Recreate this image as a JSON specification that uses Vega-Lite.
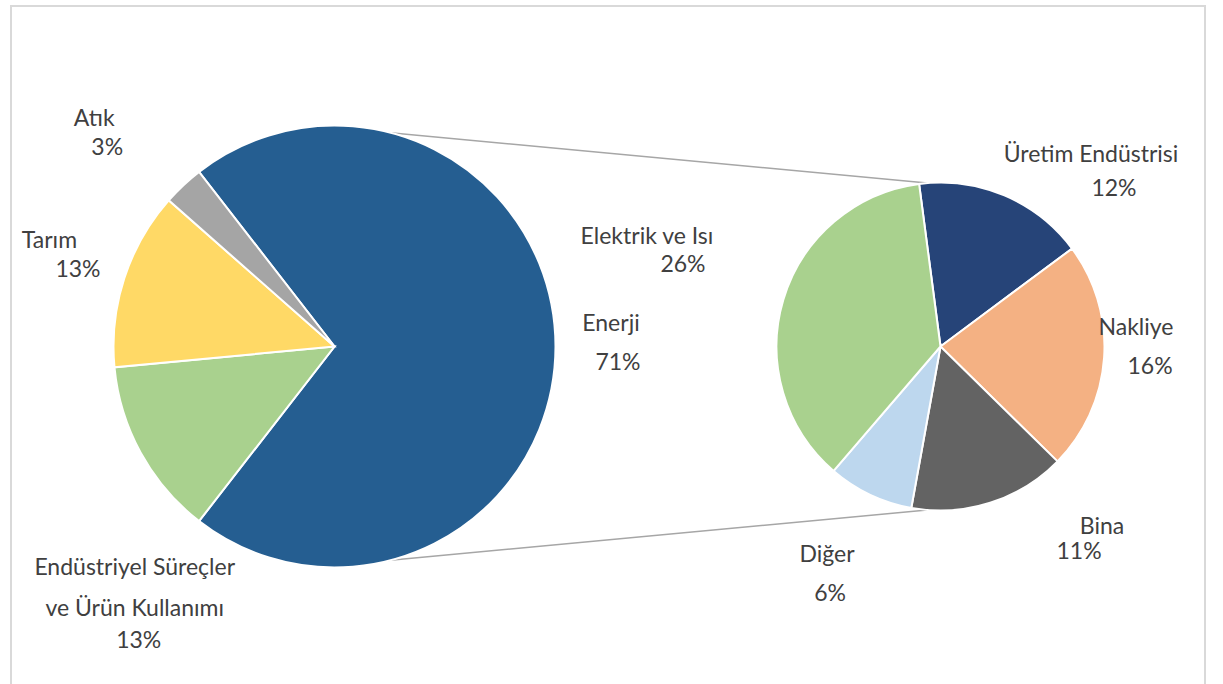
{
  "$schema": "https://vega.github.io/schema/vega-lite/v6.json",
  "width": 1223,
  "height": 684,
  "autosize": {"type": "fit", "contains": "padding"},
  "padding": {"left": 9, "top": 6, "right": 1, "bottom": -3},
  "background": "white",
  "config": {
    "view": {"stroke": "#d9d9d9", "strokeWidth": 2},
    "text": {"font": "Lato", "fontSize": 23, "color": "#404040", "align": "center", "baseline": "middle"}
  },
  "datasets": {
    "ana": [
      {"ad": "Enerji", "pay": 0.71, "sira": 1},
      {"ad": "Endüstriyel Süreçler\nve Ürün Kullanımı", "pay": 0.13, "sira": 2},
      {"ad": "Tarım", "pay": 0.13, "sira": 3},
      {"ad": "Atık", "pay": 0.03, "sira": 4}
    ],
    "enerji": [
      {"ad": "Üretim Endüstrisi", "pay": 0.12, "sira": 1},
      {"ad": "Nakliye", "pay": 0.16, "sira": 2},
      {"ad": "Bina", "pay": 0.11, "sira": 3},
      {"ad": "Diğer", "pay": 0.06, "sira": 4},
      {"ad": "Elektrik ve Isı", "pay": 0.26, "sira": 5}
    ],
    "bos": [{}]
  },
  "layer": [
    {
      "data": {"name": "bos"},
      "mark": {"type": "rule", "color": "#a6a6a6", "strokeWidth": 1.5},
      "encoding": {
        "x": {"datum": "Toplam", "type": "nominal", "scale": {"type": "point", "domain": ["Toplam", "Enerji"], "range": [323.5, 929.5], "padding": 0}, "axis": null},
        "x2": {"datum": "Enerji"},
        "y": {"datum": 1, "type": "quantitative", "scale": {"type": "linear", "domain": [-1.5545, 1.5545], "nice": false, "zero": false}, "axis": null},
        "y2": {"datum": 0.741}
      }
    },
    {
      "data": {"name": "bos"},
      "mark": {"type": "rule", "color": "#a6a6a6", "strokeWidth": 1.5},
      "encoding": {
        "x": {"datum": "Toplam", "type": "nominal", "scale": {"type": "point", "domain": ["Toplam", "Enerji"], "range": [323.5, 929.5], "padding": 0}, "axis": null},
        "x2": {"datum": "Enerji"},
        "y": {"datum": -1, "type": "quantitative", "scale": {"type": "linear", "domain": [-1.5545, 1.5545], "nice": false, "zero": false}, "axis": null},
        "y2": {"datum": -0.741}
      }
    },
    {
      "data": {"name": "ana"},
      "encoding": {
        "theta": {"field": "pay", "type": "quantitative", "stack": true, "scale": {"range": [-0.6597, 5.6235]}},
        "order": {"field": "sira", "type": "quantitative"},
        "detail": {"field": "ad", "type": "nominal"},
        "x": {"datum": "Toplam", "type": "nominal", "scale": {"type": "point", "domain": ["Toplam", "Enerji"], "range": [323.5, 929.5], "padding": 0}, "axis": null},
        "y": {"datum": 0, "type": "quantitative", "scale": {"type": "linear", "domain": [-1.5545, 1.5545], "nice": false, "zero": false}, "axis": null}
      },
      "layer": [
        {
          "mark": {"type": "arc", "radius": 221, "stroke": "white", "strokeWidth": 2},
          "encoding": {
            "color": {"field": "ad", "type": "nominal", "legend": null,
              "scale": {"domain": ["Enerji", "Endüstriyel Süreçler\nve Ürün Kullanımı", "Tarım", "Atık", "Üretim Endüstrisi", "Nakliye", "Bina", "Diğer", "Elektrik ve Isı"],
                        "range": ["#255E91", "#A9D18E", "#FFD966", "#A5A5A5", "#264478", "#F4B183", "#636363", "#BDD7EE", "#A9D18E"]}}
          }
        },
        {"mark": {"type": "text", "radius": 280, "dx": -3.5, "dy": -23},
         "encoding": {"text": {"condition": {"test": "datum.ad === 'Enerji'", "field": "ad", "type": "nominal"}, "value": ""}}},
        {"mark": {"type": "text", "radius": 280, "dx": 3.5, "dy": 16},
         "encoding": {"text": {"condition": {"test": "datum.ad === 'Enerji'", "field": "pay", "type": "quantitative", "format": ".0%"}, "value": ""}}},
        {"mark": {"type": "text", "radius": 220, "dx": -7, "dy": 116, "lineBreak": "\n", "lineHeight": 41},
         "encoding": {"text": {"condition": {"test": "indexof(datum.ad, 'Endüstriyel') === 0", "field": "ad", "type": "nominal"}, "value": ""}}},
        {"mark": {"type": "text", "radius": 220, "dx": -3, "dy": 189},
         "encoding": {"text": {"condition": {"test": "indexof(datum.ad, 'Endüstriyel') === 0", "field": "pay", "type": "quantitative", "format": ".0%"}, "value": ""}}},
        {"mark": {"type": "text", "radius": 285, "dx": -14, "dy": -17},
         "encoding": {"text": {"condition": {"test": "datum.ad === 'Tarım'", "field": "ad", "type": "nominal"}, "value": ""}}},
        {"mark": {"type": "text", "radius": 285, "dx": 14.5, "dy": 12},
         "encoding": {"text": {"condition": {"test": "datum.ad === 'Tarım'", "field": "pay", "type": "quantitative", "format": ".0%"}, "value": ""}}},
        {"mark": {"type": "text", "radius": 316, "dx": -24, "dy": 3},
         "encoding": {"text": {"condition": {"test": "datum.ad === 'Atık'", "field": "ad", "type": "nominal"}, "value": ""}}},
        {"mark": {"type": "text", "radius": 316, "dx": -11, "dy": 32},
         "encoding": {"text": {"condition": {"test": "datum.ad === 'Atık'", "field": "pay", "type": "quantitative", "format": ".0%"}, "value": ""}}}
      ]
    },
    {
      "data": {"name": "enerji"},
      "encoding": {
        "theta": {"field": "pay", "type": "quantitative", "stack": true, "scale": {"range": [-0.1309, 6.1523]}},
        "order": {"field": "sira", "type": "quantitative"},
        "detail": {"field": "ad", "type": "nominal"},
        "x": {"datum": "Enerji", "type": "nominal", "scale": {"type": "point", "domain": ["Toplam", "Enerji"], "range": [323.5, 929.5], "padding": 0}, "axis": null},
        "y": {"datum": 0, "type": "quantitative", "scale": {"type": "linear", "domain": [-1.5545, 1.5545], "nice": false, "zero": false}, "axis": null}
      },
      "layer": [
        {
          "mark": {"type": "arc", "radius": 164, "stroke": "white", "strokeWidth": 2},
          "encoding": {
            "color": {"field": "ad", "type": "nominal", "legend": null,
              "scale": {"domain": ["Enerji", "Endüstriyel Süreçler\nve Ürün Kullanımı", "Tarım", "Atık", "Üretim Endüstrisi", "Nakliye", "Bina", "Diğer", "Elektrik ve Isı"],
                        "range": ["#255E91", "#A9D18E", "#FFD966", "#A5A5A5", "#264478", "#F4B183", "#636363", "#BDD7EE", "#A9D18E"]}}
          }
        },
        {"mark": {"type": "text", "radius": 200, "dx": 72.6, "dy": -7},
         "encoding": {"text": {"condition": {"test": "datum.ad === 'Üretim Endüstrisi'", "field": "ad", "type": "nominal"}, "value": ""}}},
        {"mark": {"type": "text", "radius": 200, "dx": 95.6, "dy": 27},
         "encoding": {"text": {"condition": {"test": "datum.ad === 'Üretim Endüstrisi'", "field": "pay", "type": "quantitative", "format": ".0%"}, "value": ""}}},
        {"mark": {"type": "text", "radius": 203, "dx": -7, "dy": -32},
         "encoding": {"text": {"condition": {"test": "datum.ad === 'Nakliye'", "field": "ad", "type": "nominal"}, "value": ""}}},
        {"mark": {"type": "text", "radius": 203, "dx": 7, "dy": 7},
         "encoding": {"text": {"condition": {"test": "datum.ad === 'Nakliye'", "field": "pay", "type": "quantitative", "format": ".0%"}, "value": ""}}},
        {"mark": {"type": "text", "radius": 180, "dx": 107, "dy": 8.5},
         "encoding": {"text": {"condition": {"test": "datum.ad === 'Bina'", "field": "ad", "type": "nominal"}, "value": ""}}},
        {"mark": {"type": "text", "radius": 180, "dx": 84, "dy": 33.5},
         "encoding": {"text": {"condition": {"test": "datum.ad === 'Bina'", "field": "pay", "type": "quantitative", "format": ".0%"}, "value": ""}}},
        {"mark": {"type": "text", "radius": 253, "dx": -4.7, "dy": -20.4},
         "encoding": {"text": {"condition": {"test": "datum.ad === 'Diğer'", "field": "ad", "type": "nominal"}, "value": ""}}},
        {"mark": {"type": "text", "radius": 253, "dx": -1.7, "dy": 18.6},
         "encoding": {"text": {"condition": {"test": "datum.ad === 'Diğer'", "field": "pay", "type": "quantitative", "format": ".0%"}, "value": ""}}},
        {"mark": {"type": "text", "radius": 290, "dx": -15.6, "dy": -27},
         "encoding": {"text": {"condition": {"test": "datum.ad === 'Elektrik ve Isı'", "field": "ad", "type": "nominal"}, "value": ""}}},
        {"mark": {"type": "text", "radius": 290, "dx": 20.4, "dy": 1},
         "encoding": {"text": {"condition": {"test": "datum.ad === 'Elektrik ve Isı'", "field": "pay", "type": "quantitative", "format": ".0%"}, "value": ""}}}
      ]
    }
  ],
  "resolve": {"scale": {"theta": "independent"}}
}
